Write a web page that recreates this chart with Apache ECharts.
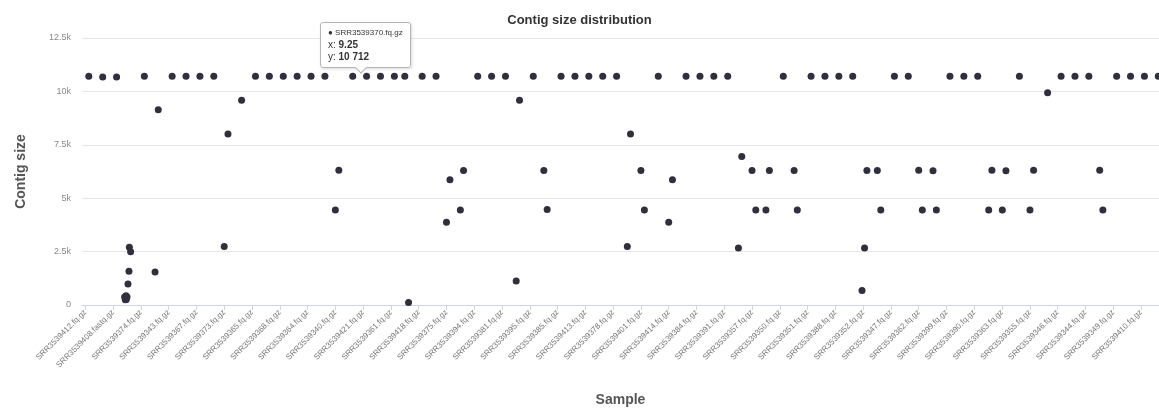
<!DOCTYPE html>
<html>
<head>
<meta charset="utf-8">
<script src="https://cdn.jsdelivr.net/npm/echarts@6/dist/echarts.min.js"></script>
<style>
html,body{margin:0;padding:0;background:#fff;}
#chart{width:1159px;height:408px;}
</style>
</head>
<body>
<div id="chart"></div>
<script>
// Tick labels: sample names shown at every second sample position (0, 2, 4, ...)
const tickLabels = [
  'SRR3539412.fq.gz','SRR3539408.fastq.gz','SRR3539374.fq.gz','SRR3539343.fq.gz','SRR3539367.fq.gz',
  'SRR3539373.fq.gz','SRR3539365.fq.gz','SRR3539368.fq.gz','SRR3539364.fq.gz','SRR3539340.fq.gz',
  'SRR3539421.fq.gz','SRR3539361.fq.gz','SRR3539418.fq.gz','SRR3539375.fq.gz','SRR3539394.fq.gz',
  'SRR3539381.fq.gz','SRR3539395.fq.gz','SRR3539385.fq.gz','SRR3539413.fq.gz','SRR3539378.fq.gz',
  'SRR3539401.fq.gz','SRR3539414.fq.gz','SRR3539384.fq.gz','SRR3539391.fq.gz','SRR3539357.fq.gz',
  'SRR3539350.fq.gz','SRR3539351.fq.gz','SRR3539388.fq.gz','SRR3539352.fq.gz','SRR3539347.fq.gz',
  'SRR3539362.fq.gz','SRR3539399.fq.gz','SRR3539390.fq.gz','SRR3539363.fq.gz','SRR3539355.fq.gz',
  'SRR3539346.fq.gz','SRR3539344.fq.gz','SRR3539349.fq.gz','SRR3539410.fq.gz'
];
const tickPositions = tickLabels.map((_, i) => i * 2);

// Contig points: x = sample position (with jitter), y = contig size
const pointX = [
  0.25, 1.25, 2.25,
  2.93, 2.83, 3.0, 2.88, 2.95, 3.07, 3.14, 3.17, 3.26,
  4.25,
  5.25, 5.02,
  6.25, 7.25, 8.25, 9.25,
  10.27, 10.0,
  11.25,
  12.25, 13.25, 14.25, 15.25, 16.25, 17.25,
  18.25, 18.0,
  19.25, 20.25, 21.25, 22.25,
  23.0, 23.27,
  24.25, 25.25,
  26.25, 26.0,
  27.23, 27.0,
  28.25, 29.25, 30.25,
  31.26, 31.02,
  32.25,
  33.01, 33.25,
  34.25, 35.25, 36.25, 37.25, 38.25,
  39.25, 39.02,
  40.0, 40.25,
  41.25,
  42.27, 42.0,
  43.25, 44.25, 45.25, 46.25,
  47.26, 47.02,
  48.0, 48.27,
  49.25, 49.0,
  50.25,
  51.03, 51.26,
  52.25, 53.25, 54.25, 55.25,
  55.92, 56.1, 56.27,
  57.02, 57.27,
  58.25, 59.25,
  60.0, 60.26,
  61.03, 61.27,
  62.25, 63.25, 64.25,
  65.27, 65.04,
  66.28, 66.02,
  67.25,
  68.27, 68.01,
  69.28,
  70.25, 71.25, 72.25,
  73.03, 73.26,
  74.25, 75.25, 76.25, 77.25
];
const pointY = [
  10712, 10680, 10680,
  436, 375, 375, 250, 262, 984, 1580, 2700, 2490,
  10712,
  9141, 1550,
  10712, 10712, 10712, 10712,
  8000, 2733,
  9591,
  10712, 10712, 10712, 10712, 10712, 10712,
  6310, 4450,
  10712, 10712, 10712, 10712,
  10712, 115,
  10712, 10712,
  5859, 3872,
  6300, 4450,
  10712, 10712, 10712,
  9591, 1125,
  10712,
  6300, 4470,
  10712, 10712, 10712, 10712, 10712,
  8000, 2733,
  6300, 4450,
  10712,
  5859, 3872,
  10712, 10712, 10712, 10712,
  6952, 2672,
  6300, 4450,
  6300, 4450,
  10712,
  6300, 4450,
  10712, 10712, 10712, 10712,
  684, 2672, 6300,
  6300, 4450,
  10712, 10712,
  6310, 4450,
  6280, 4450,
  10712, 10712, 10712,
  6310, 4450,
  6280, 4450,
  10712,
  6310, 4450,
  9937,
  10712, 10712, 10712,
  6310, 4450,
  10712, 10712, 10712, 10712
];

// Hovered point shown in the reference tooltip
const hoverSample = 'SRR3539370.fq.gz';
const hoverX = 9.25;

const yTicks = [0, 2500, 5000, 7500, 10000, 12500];

const data = pointX.map((x, i) => [x, pointY[i]]);
const fontFamily = 'Arial, "Liberation Sans", Helvetica, sans-serif';

const chart = echarts.init(document.getElementById('chart'), null, {renderer: 'canvas'});

function fmtThousands(v) {
  return String(v).replace(/\B(?=(\d{3})+(?!\d))/g, ' ');
}

chart.setOption({
  animation: false,
  textStyle: {fontFamily: fontFamily},
  title: {
    text: 'Contig size distribution',
    left: 'center',
    top: 9,
    textStyle: {fontSize: 13, fontWeight: 'bold', color: '#333', fontFamily: fontFamily}
  },
  grid: {left: 82, right: 0, top: 38, bottom: 103, outerBoundsMode: 'none', containLabel: false},
  tooltip: {
    trigger: 'item',
    triggerOn: 'none',
    alwaysShowContent: true,
    transitionDuration: 0,
    position: [320, 22],
    backgroundColor: 'rgba(255,255,255,0.96)',
    borderColor: '#b5b5b5',
    borderWidth: 1,
    padding: [4, 7, 4, 7],
    extraCssText: 'box-shadow:1px 1px 3px rgba(0,0,0,0.15);border-radius:3px;overflow:visible;',
    formatter: function (p) {
      return '<div style="font-family:' + fontFamily.replace(/"/g, "'") + ';color:#333;line-height:12px;">' +
        '<div style="font-size:8px;color:#333;">&#9679; ' + hoverSample + '</div>' +
        '<div style="font-size:10px;">x: <b>' + p.value[0] + '</b></div>' +
        '<div style="font-size:10px;">y: <b>' + fmtThousands(p.value[1]) + '</b></div>' +
        '<div style="position:absolute;left:36px;bottom:-5px;width:7px;height:7px;background:#fff;' +
        'border-right:1px solid #b5b5b5;border-bottom:1px solid #b5b5b5;transform:rotate(45deg);"></div>' +
        '</div>';
    }
  },
  xAxis: {
    type: 'value',
    min: -0.24,
    max: 77.3,
    name: 'Sample',
    nameLocation: 'middle',
    nameGap: 88,
    nameTextStyle: {fontSize: 14, fontWeight: 'bold', color: '#555', fontFamily: fontFamily},
    axisLine: {show: true, lineStyle: {color: '#ccd6eb', width: 1}},
    axisTick: {show: true, customValues: tickPositions, length: 5, lineStyle: {color: '#ccd6eb'}},
    axisLabel: {
      customValues: tickPositions,
      rotate: 45,
      margin: 6,
      fontSize: 8,
      color: '#777',
      fontFamily: fontFamily,
      formatter: function (v) { return tickLabels[Math.round(v / 2)] || ''; }
    },
    splitLine: {show: false}
  },
  yAxis: {
    type: 'value',
    min: 0,
    max: 12500,
    interval: 2500,
    name: 'Contig size',
    nameLocation: 'middle',
    nameGap: 54,
    nameTextStyle: {fontSize: 14, fontWeight: 'bold', color: '#555', fontFamily: fontFamily},
    axisLine: {show: false},
    axisTick: {show: false},
    axisLabel: {
      customValues: yTicks,
      fontSize: 9,
      color: '#888',
      margin: 11,
      fontFamily: fontFamily,
      formatter: function (v) { return v === 0 ? '0' : (v / 1000) + 'k'; }
    },
    splitLine: {show: true, lineStyle: {color: '#e6e6e6', width: 1}}
  },
  series: [{
    type: 'scatter',
    data: data,
    symbol: 'circle',
    symbolSize: 7,
    itemStyle: {color: '#2f2f3d', opacity: 1},
    clip: true
  }]
});

const hoverIndex = pointX.indexOf(hoverX);
chart.dispatchAction({type: 'showTip', seriesIndex: 0, dataIndex: hoverIndex});
</script>
</body>
</html>
